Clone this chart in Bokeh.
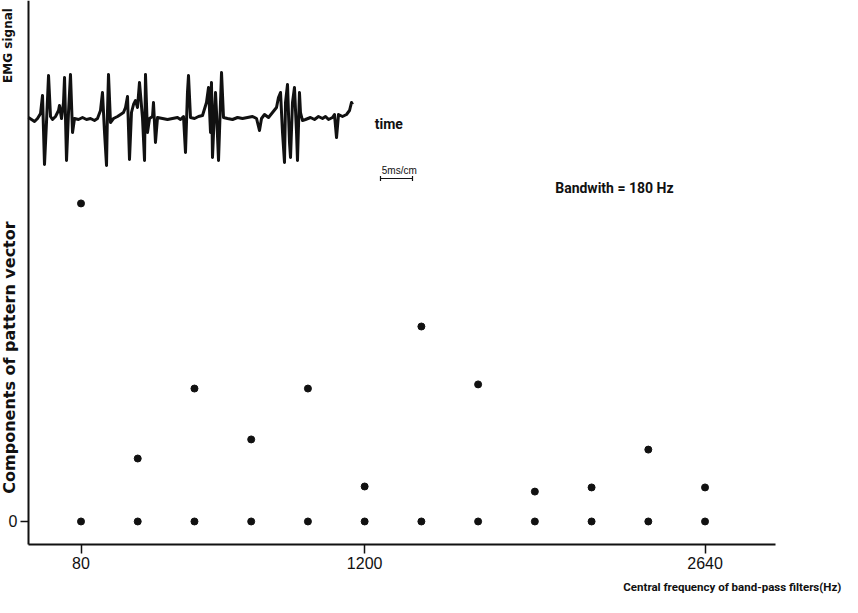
from bokeh.plotting import figure
from bokeh.models import Range1d, FixedTicker, Label
from bokeh.embed import file_html
from bokeh.resources import INLINE

# ---------------- data ----------------
# band-pass filters (index) and tick labels (central frequency, Hz)
filter_index = [1, 2, 3, 4, 5, 6, 7, 8, 9, 10, 11, 12]
tick_positions = [1, 6, 12]
tick_labels = ["80", "1200", "2640"]

# components of the pattern vector (relative units)
components = [1.00, 0.198, 0.418, 0.258, 0.418, 0.110,
              0.613, 0.431, 0.094, 0.107, 0.226, 0.107]
baseline = [0, 0, 0, 0, 0, 0, 0, 0, 0, 0, 0, 0]

# EMG signal trace: time (ms) and amplitude (arbitrary units)
emg_t = [0.0, 0.47, 0.94, 1.41, 1.88, 2.19, 2.50, 2.81, 3.13, 3.44, 3.75, 4.22,
         4.69, 4.84, 5.16, 5.47, 5.63, 5.94, 6.25, 6.56, 6.88, 7.19, 7.81, 8.44,
         9.06, 9.69, 10.31, 10.78, 11.25, 11.56, 11.88, 12.19, 12.34, 12.50, 12.81,
         13.28, 13.91, 14.38, 14.84, 15.16, 15.47, 15.78, 16.09, 16.41, 16.72,
         17.03, 17.34, 17.81, 18.13, 18.28, 18.59, 18.91, 19.38, 19.53, 19.84,
         20.16, 20.94, 21.72, 22.50, 23.28, 23.75, 24.22, 24.53, 24.84, 25.00,
         25.31, 25.94, 26.56, 27.19, 27.81, 28.13, 28.44, 28.59, 28.75, 29.06,
         29.22, 29.38, 29.69, 30.00, 30.16, 30.47, 31.09, 31.88, 32.66, 33.44,
         34.22, 35.00, 35.63, 36.09, 36.41, 36.88, 37.50, 38.13, 38.75, 39.06,
         39.38, 39.69, 40.00, 40.16, 40.47, 40.78, 40.94, 41.25, 41.56, 41.88,
         42.03, 42.34, 42.50, 42.81, 43.28, 44.06, 44.69, 45.31, 45.94, 46.41,
         46.88, 47.50, 47.81, 48.13, 48.44, 49.06, 49.69, 50.16, 50.47, 50.63]
emg_v = [0.0, -0.2, -0.4, -0.1, 0.4, 2.2, -4.7, -0.5, 4.2, 0.1, -0.2, 0.1,
         0.7, 1.2, -0.1, 1.5, 4.0, -4.3, 0.5, 4.3, -1.5, -0.1, -0.2, 0.0,
         -0.2, -0.1, -0.3, -0.1, 0.7, 2.5, -1.5, -4.8, 0.5, 4.3, -0.5,
         -0.1, 0.1, 0.3, 0.5, 1.0, 2.1, -4.2, 0.5, 1.3, 1.7,
         1.0, 3.5, 0.0, -4.3, 4.3, -1.5, -0.1, 0.1, 1.5, -2.5,
         0.0, -0.1, -0.2, -0.1, 0.0, -0.2, 0.1, -3.5, 2.5, 4.2,
         0.0, -0.1, 0.1, 0.2, 1.5, 3.0, -1.5, 3.5, -4.0, 0.7,
         2.5, 0.5, -4.3, 1.5, 4.5, 0.0, -0.1, -0.2, 0.0, -0.1,
         0.0, 0.1, -0.1, -1.3, -0.1, 0.3, 0.0, 0.5, 1.0, 2.0,
         2.5, -1.5, -4.5, 1.5, 3.3, -2.5, -4.0, 1.5, 3.0, -1.5,
         -4.3, 2.5, 0.5, -0.3, -0.2, 0.0, -0.2, 0.1, -0.1, 0.1,
         -0.2, 0.0, 0.3, -2.0, 0.3, 0.1, 0.3, 0.7, 1.5, 1.3]

scale_bar_start_ms = 55.0
scale_bar_len_ms = 5.0
scale_bar_level = -6.1

# ---------------- figure ----------------
W, H = 842, 597
X_AXIS_AT = -0.0723     # y value where the frequency axis is drawn
Y_AXIS_AT = 0.0746      # x value where the component axis is drawn
X_END = 13.242
Y_END = 1.64

p = figure(width=W, height=H, output_backend="svg", toolbar_location=None,
           x_range=Range1d(-0.419, 14.423), y_range=Range1d(-0.239, 1.638),
           min_border=0, min_border_left=0, min_border_right=0,
           min_border_top=0, min_border_bottom=0)
p.extra_x_ranges = {"emg_t": Range1d(-4.375, 127.19)}
p.extra_y_ranges = {"emg_v": Range1d(-48.0, 11.7)}

p.outline_line_color = None
p.xgrid.visible = False
p.ygrid.visible = False
p.background_fill_color = "white"
p.border_fill_color = "white"

ink = "#111111"

# axes (drawn at fixed locations inside the canvas)
xa = p.xaxis[0]
ya = p.yaxis[0]
xa.fixed_location = X_AXIS_AT
ya.fixed_location = Y_AXIS_AT
xa.bounds = (Y_AXIS_AT, X_END)
ya.bounds = (X_AXIS_AT, Y_END)
xa.ticker = FixedTicker(ticks=tick_positions)
xa.major_label_overrides = {t: l for t, l in zip(tick_positions, tick_labels)}
ya.ticker = FixedTicker(ticks=[0])
for ax in (xa, ya):
    ax.axis_line_color = ink
    ax.axis_line_width = 2
    ax.major_tick_line_color = ink
    ax.major_tick_line_width = 1.5
    ax.major_tick_in = 0
    ax.minor_tick_line_color = None
    ax.major_label_text_font = "Liberation Sans"
    ax.major_label_text_font_size = "16px"
    ax.major_label_text_color = ink
xa.major_tick_out = 9
xa.major_label_standoff = 4
ya.major_tick_out = 8
ya.major_label_standoff = 3

# pattern vector components
p.scatter(filter_index, baseline, size=7, color=ink)
p.scatter(filter_index, components, size=7, color=ink)

# EMG trace
p.line(emg_t, emg_v, x_range_name="emg_t", y_range_name="emg_v",
       line_color=ink, line_width=3, line_join="round")

# scale bar
p.segment(x0=[scale_bar_start_ms], y0=[scale_bar_level],
          x1=[scale_bar_start_ms + scale_bar_len_ms], y1=[scale_bar_level],
          x_range_name="emg_t", y_range_name="emg_v", line_color=ink, line_width=1.2)
p.segment(x0=[scale_bar_start_ms, scale_bar_start_ms + scale_bar_len_ms],
          y0=[scale_bar_level - 0.25, scale_bar_level - 0.25],
          x1=[scale_bar_start_ms, scale_bar_start_ms + scale_bar_len_ms],
          y1=[scale_bar_level + 0.25, scale_bar_level + 0.25],
          x_range_name="emg_t", y_range_name="emg_v", line_color=ink, line_width=1.2)

def lab(x, y, text, size, font="Roboto", style="bold", align="left",
        baseline="middle", angle=0.0):
    p.add_layout(Label(x=x, y=y, text=text, x_range_name="emg_t",
                       y_range_name="emg_v", text_font=font,
                       text_font_size=size, text_font_style=style,
                       text_align=align, text_baseline=baseline,
                       angle=angle, text_color=ink))

lab(54.1, -0.6, "time", "14px")
lab(55.2, -5.3, "5ms/cm", "10px", font="Liberation Sans", style="normal")
lab(82.3, -7.0, "Bandwith = 180 Hz", "14px")
lab(-3.2, 7.2, "EMG signal", "12px", font="DejaVu Sans", align="center",
    angle=1.5708)
lab(-3.0, -24.0, "Components of pattern vector", "16px", font="DejaVu Sans",
    align="center", angle=1.5708)
lab(127.0, -46.9, "Central frequency of band-pass filters(Hz)", "11.5px",
    font="Roboto", align="right")

open("out.html", "w").write(file_html(p, INLINE))
